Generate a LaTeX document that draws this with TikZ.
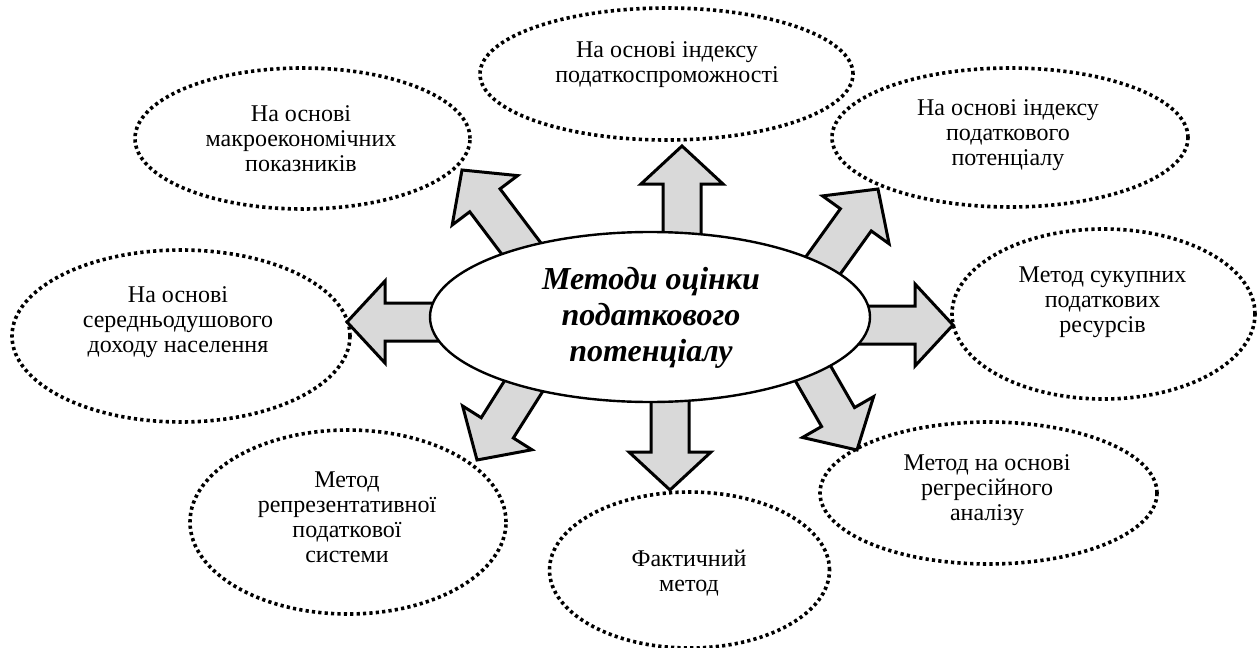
\documentclass[tikz,border=0pt]{standalone}
\usepackage{fontspec}
\setmainfont{Liberation Serif}
\usetikzlibrary{calc,shapes.geometric}
\tikzset{
  outer/.style={ellipse, draw=black, line width=1.8pt, dash pattern=on 1.6pt off 1.6pt, inner sep=0pt},
  txt/.style={align=center, font=\fontsize{12}{12.5}\selectfont, inner sep=0pt},
  centre/.style={ellipse, draw=black, fill=white, line width=1.2pt, inner sep=0pt,
    minimum width=220pt, minimum height=85pt},
  ctxt/.style={align=center, font=\fontsize{16}{18}\selectfont\bfseries\itshape, inner sep=0pt},
  barrow/.style={draw=black, fill=arrowgray, line width=1.5pt, line join=miter}
}
\definecolor{arrowgray}{HTML}{D9D9D9}
\newcommand\blockarr[3]{%
  \coordinate (#3h) at ($(#2)!19pt!(#1)$);
  \draw[barrow] ($(#1)!9.5pt!90:(#2)$) -- ($(#3h)!9.5pt!90:(#2)$) -- ($(#3h)!20.5pt!90:(#2)$) -- (#2)
    -- ($(#3h)!20.5pt!-90:(#2)$) -- ($(#3h)!9.5pt!-90:(#2)$) -- ($(#1)!9.5pt!-90:(#2)$) -- cycle;
}
\begin{document}
\begin{tikzpicture}[x=0.5pt,y=-0.5pt]
\useasboundingbox[fill=white] (0,0) rectangle (1260,648);
% outer dotted ellipses
\node[outer, minimum width=186.5pt, minimum height=66pt] (e1) at (666.5,74) {};
\node[outer, minimum width=167.5pt, minimum height=70.5pt] (e2) at (302.5,138.5) {};
\node[outer, minimum width=178pt, minimum height=69.5pt] (e3) at (1010,137.5) {};
\node[outer, minimum width=169pt, minimum height=86pt] (e4) at (181,336) {};
\node[outer, minimum width=151.5pt, minimum height=85pt] (e5) at (1103.5,314) {};
\node[outer, minimum width=158pt, minimum height=92pt] (e6) at (348,522) {};
\node[outer, minimum width=140pt, minimum height=78pt] (e7) at (689.5,570) {};
\node[outer, minimum width=168.5pt, minimum height=71pt] (e8) at (988.5,493) {};
% texts
\node[txt] (t1) at (667,65) {На основі індексу\\податкоспроможності};
\node[txt] (t2) at (301,139) {На основі\\макроекономічних\\показників};
\node[txt] (t3) at (1008,135.6) {На основі індексу\\податкового\\потенціалу};
\node[txt] (t4) at (178,322) {На основі\\середньодушового\\доходу населення};
\node[txt] (t5) at (1102.5,302.5) {Метод сукупних\\податкових\\ресурсів};
\node[txt] (t6) at (347,517) {Метод\\репрезентативної\\податкової\\системи};
\node[txt] (t7) at (689,573) {Фактичний\\метод};
\node[txt] (t8) at (987,490) {Метод на основі\\регресійного\\аналізу};
% arrow start and tip coordinates
\coordinate (sU) at (682,250);  \coordinate (pU) at (682,146);
\coordinate (sD) at (670,385);  \coordinate (pD) at (670,490);
\coordinate (sL) at (450,322);  \coordinate (pL) at (347,322);
\coordinate (sR) at (845,325);  \coordinate (pR) at (953,325);
\coordinate (sUL) at (530,260); \coordinate (pUL) at (462,170);
\coordinate (sUR) at (814,278); \coordinate (pUR) at (878,189);
\coordinate (sLL) at (535.7,367); \coordinate (pLL) at (477,460);
\coordinate (sLR) at (803,356); \coordinate (pLR) at (857,450);
\blockarr{sU}{pU}{aU}
\blockarr{sD}{pD}{aD}
\blockarr{sL}{pL}{aL}
\blockarr{sR}{pR}{aR}
\blockarr{sUL}{pUL}{aUL}
\blockarr{sUR}{pUR}{aUR}
\blockarr{sLL}{pLL}{aLL}
\blockarr{sLR}{pLR}{aLR}
% centre
\node[centre] (c) at (650,317) {};
\node[ctxt] (ct) at (651,318) {Методи оцінки\\податкового\\потенціалу};
\end{tikzpicture}
\end{document}
